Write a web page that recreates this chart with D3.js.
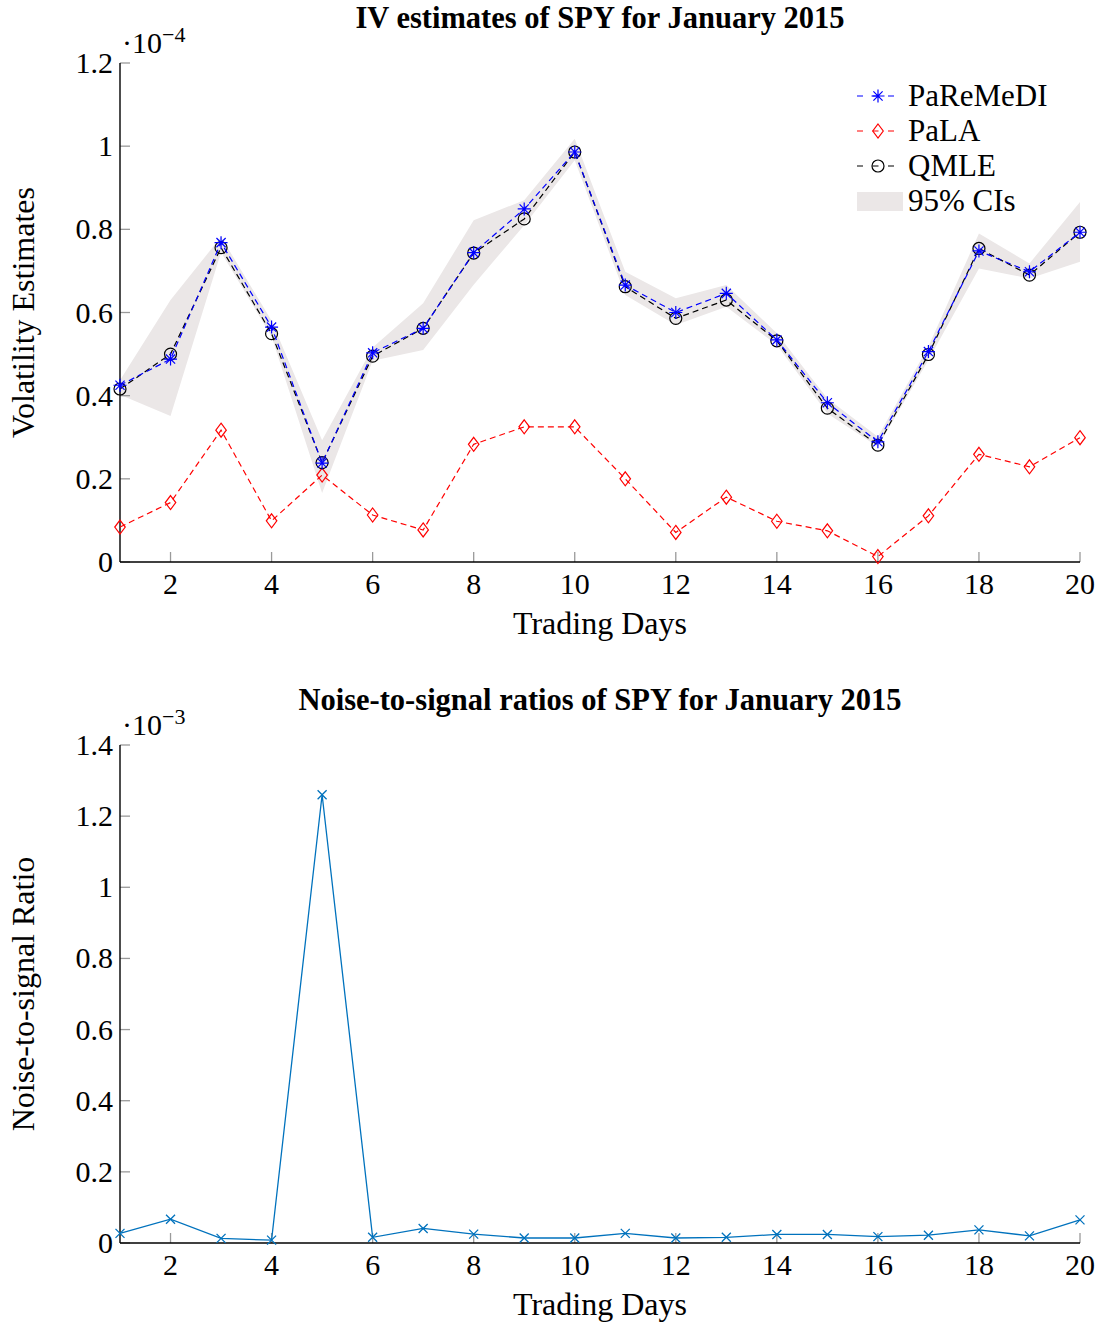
<!DOCTYPE html>
<html>
<head>
<meta charset="utf-8">
<script src="https://cdn.jsdelivr.net/npm/d3@7"></script>
<style>
  body { margin: 0; background: #fff; }
  svg text { font-family: "Liberation Serif", "DejaVu Serif", serif; fill: #000; }
</style>
</head>
<body>
<div id="chart"></div>
<script>
// IV estimates & noise-to-signal ratios, SPY, January 2015
const days = d3.range(1, 21);
const xTicks = [2, 4, 6, 8, 10, 12, 14, 16, 18, 20];

// top panel, values in units of 1e-4
const pareMeDI = [0.425, 0.488, 0.768, 0.565, 0.238, 0.503, 0.562, 0.744, 0.849, 0.986,
                  0.666, 0.600, 0.646, 0.534, 0.383, 0.289, 0.506, 0.748, 0.698, 0.793];
const pala     = [0.084, 0.143, 0.317, 0.099, 0.209, 0.113, 0.077, 0.283, 0.325, 0.325,
                  0.200, 0.071, 0.156, 0.098, 0.075, 0.013, 0.111, 0.259, 0.229, 0.299];
const qmle     = [0.416, 0.500, 0.756, 0.549, 0.239, 0.495, 0.562, 0.743, 0.825, 0.986,
                  0.662, 0.586, 0.630, 0.532, 0.370, 0.281, 0.499, 0.754, 0.690, 0.793];
const ciUpper  = [0.437, 0.630, 0.782, 0.580, 0.293, 0.516, 0.622, 0.822, 0.870, 1.018,
                  0.698, 0.634, 0.666, 0.550, 0.393, 0.301, 0.518, 0.790, 0.718, 0.866];
const ciLower  = [0.402, 0.351, 0.745, 0.542, 0.166, 0.484, 0.510, 0.667, 0.810, 0.966,
                  0.642, 0.570, 0.614, 0.522, 0.357, 0.277, 0.486, 0.706, 0.682, 0.722];
const yTicksTop = [0, 0.2, 0.4, 0.6, 0.8, 1, 1.2];

// bottom panel, values in units of 1e-3
const nsr = [0.027, 0.067, 0.013, 0.008, 1.26, 0.016, 0.041, 0.025, 0.014, 0.014,
             0.027, 0.014, 0.016, 0.024, 0.024, 0.018, 0.022, 0.037, 0.020, 0.065];
const yTicksBot = [0, 0.2, 0.4, 0.6, 0.8, 1, 1.2, 1.4];

const W = 1104, H = 1324;
const svg = d3.select('#chart').append('svg').attr('width', W).attr('height', H);

const FS = 30;      // tick labels
const LFS = 32;     // axis labels
const LEG = 31;     // legend

function starPath(cx, cy, r) {
  const d = r * 0.7071;
  return `M${cx - r},${cy}L${cx + r},${cy}M${cx},${cy - r}L${cx},${cy + r}` +
         `M${cx - d},${cy - d}L${cx + d},${cy + d}M${cx - d},${cy + d}L${cx + d},${cy - d}`;
}
function crossPath(cx, cy, r) {
  return `M${cx - r},${cy - r}L${cx + r},${cy + r}M${cx - r},${cy + r}L${cx + r},${cy - r}`;
}
function diamondPath(cx, cy, r) {
  return `M${cx},${cy - r}L${cx + r * 0.75},${cy}L${cx},${cy + r}L${cx - r * 0.75},${cy}Z`;
}

function axes(g, x, y, yTicks, left, top, bottom, right, exp, title, ylabel) {
  // ticks (grey, inward)
  g.selectAll('.xt').data(xTicks).enter().append('line')
    .attr('x1', d => x(d)).attr('x2', d => x(d))
    .attr('y1', bottom).attr('y2', bottom - 10)
    .attr('stroke', '#9a9a9a').attr('stroke-width', 1.3);
  g.selectAll('.yt').data(yTicks).enter().append('line')
    .attr('x1', left).attr('x2', left + 10)
    .attr('y1', d => y(d)).attr('y2', d => y(d))
    .attr('stroke', '#9a9a9a').attr('stroke-width', 1.3);
  // axis lines
  g.append('line').attr('x1', left).attr('x2', left).attr('y1', top).attr('y2', bottom)
    .attr('stroke', '#000').attr('stroke-width', 1.4);
  g.append('line').attr('x1', left).attr('x2', right).attr('y1', bottom).attr('y2', bottom)
    .attr('stroke', '#000').attr('stroke-width', 1.4);
  // tick labels
  g.selectAll('.xl').data(xTicks).enter().append('text')
    .attr('x', d => x(d)).attr('y', bottom + 32)
    .attr('text-anchor', 'middle').attr('font-size', FS).text(d => d);
  g.selectAll('.yl').data(yTicks).enter().append('text')
    .attr('x', left - 7).attr('y', d => y(d) + 10)
    .attr('text-anchor', 'end').attr('font-size', FS).text(d => d);
  // exponent
  const e = g.append('text').attr('x', left + 2).attr('y', top - 10).attr('font-size', FS);
  e.append('tspan').text('·10');
  e.append('tspan').attr('dy', -11).attr('font-size', 22).text(exp);
  // labels
  g.append('text').attr('x', (left + right) / 2).attr('y', bottom + 72)
    .attr('text-anchor', 'middle').attr('font-size', LFS).text('Trading Days');
  g.append('text').attr('transform', `translate(34,${(top + bottom) / 2}) rotate(-90)`)
    .attr('text-anchor', 'middle').attr('font-size', LFS).text(ylabel);
  g.append('text').attr('x', 600).attr('y', top - 35)
    .attr('text-anchor', 'middle').attr('font-size', 30.5).attr('font-weight', 'bold').text(title);
}

// ---------- top panel ----------
{
  const left = 120, right = 1080, top = 63, bottom = 562;
  const x = d3.scaleLinear().domain([1, 20]).range([left, right]);
  const y = d3.scaleLinear().domain([0, 1.2]).range([bottom, top]);
  const g = svg.append('g');

  const area = d3.area().x((d, i) => x(days[i])).y0((d, i) => y(ciLower[i])).y1(d => y(d));
  g.append('path').datum(ciUpper).attr('d', area).attr('fill', '#ebe7e7');

  axes(g, x, y, yTicksTop, left, top, bottom, right, '−4',
       'IV estimates of SPY for January 2015', 'Volatility Estimates');

  const line = d3.line().x((d, i) => x(days[i])).y(d => y(d));
  const series = [
    { name: 'PaLA', vals: pala, color: '#ff0000', marker: 'diamond' },
    { name: 'QMLE', vals: qmle, color: '#000000', marker: 'circle' },
    { name: 'PaReMeDI', vals: pareMeDI, color: '#0000ff', marker: 'star' }
  ];
  function drawMarker(sel, type, cx, cy, color) {
    if (type === 'circle') {
      sel.append('circle').attr('cx', cx).attr('cy', cy).attr('r', 6)
        .attr('fill', 'none').attr('stroke', color).attr('stroke-width', 1.2);
    } else if (type === 'star') {
      sel.append('path').attr('d', starPath(cx, cy, 6.5))
        .attr('fill', 'none').attr('stroke', color).attr('stroke-width', 1.2);
    } else {
      sel.append('path').attr('d', diamondPath(cx, cy, 7))
        .attr('fill', 'none').attr('stroke', color).attr('stroke-width', 1.2);
    }
  }
  series.forEach(s => {
    g.append('path').datum(s.vals).attr('d', line).attr('fill', 'none')
      .attr('stroke', s.color).attr('stroke-width', 1.2).attr('stroke-dasharray', '6,4');
    s.vals.forEach((v, i) => drawMarker(g, s.marker, x(days[i]), y(v), s.color));
  });

  // legend
  const legend = [
    { name: 'PaReMeDI', color: '#0000ff', marker: 'star', y: 96 },
    { name: 'PaLA', color: '#ff0000', marker: 'diamond', y: 131 },
    { name: 'QMLE', color: '#000000', marker: 'circle', y: 166 }
  ];
  legend.forEach(l => {
    g.append('line').attr('x1', 857).attr('x2', 897).attr('y1', l.y).attr('y2', l.y)
      .attr('stroke', l.color).attr('stroke-width', 1.2).attr('stroke-dasharray', '6,9.5');
    drawMarker(g, l.marker, 878, l.y, l.color);
    g.append('text').attr('x', 908).attr('y', l.y + 10).attr('font-size', LEG).text(l.name);
  });
  g.append('rect').attr('x', 857).attr('y', 192).attr('width', 46).attr('height', 19).attr('fill', '#ebe7e7');
  g.append('text').attr('x', 908).attr('y', 211).attr('font-size', LEG).text('95% CIs');
}

// ---------- bottom panel ----------
{
  const left = 120, right = 1080, top = 745, bottom = 1243;
  const x = d3.scaleLinear().domain([1, 20]).range([left, right]);
  const y = d3.scaleLinear().domain([0, 1.4]).range([bottom, top]);
  const g = svg.append('g');

  axes(g, x, y, yTicksBot, left, top, bottom, right, '−3',
       'Noise-to-signal ratios of SPY for January 2015', 'Noise-to-signal Ratio');

  const line = d3.line().x((d, i) => x(days[i])).y(d => y(d));
  g.append('path').datum(nsr).attr('d', line).attr('fill', 'none')
    .attr('stroke', '#0072bd').attr('stroke-width', 1.3);
  nsr.forEach((v, i) => {
    g.append('path').attr('d', crossPath(x(days[i]), y(v), 4.5))
      .attr('fill', 'none').attr('stroke', '#0072bd').attr('stroke-width', 1.3);
  });
}
</script>
</body>
</html>
